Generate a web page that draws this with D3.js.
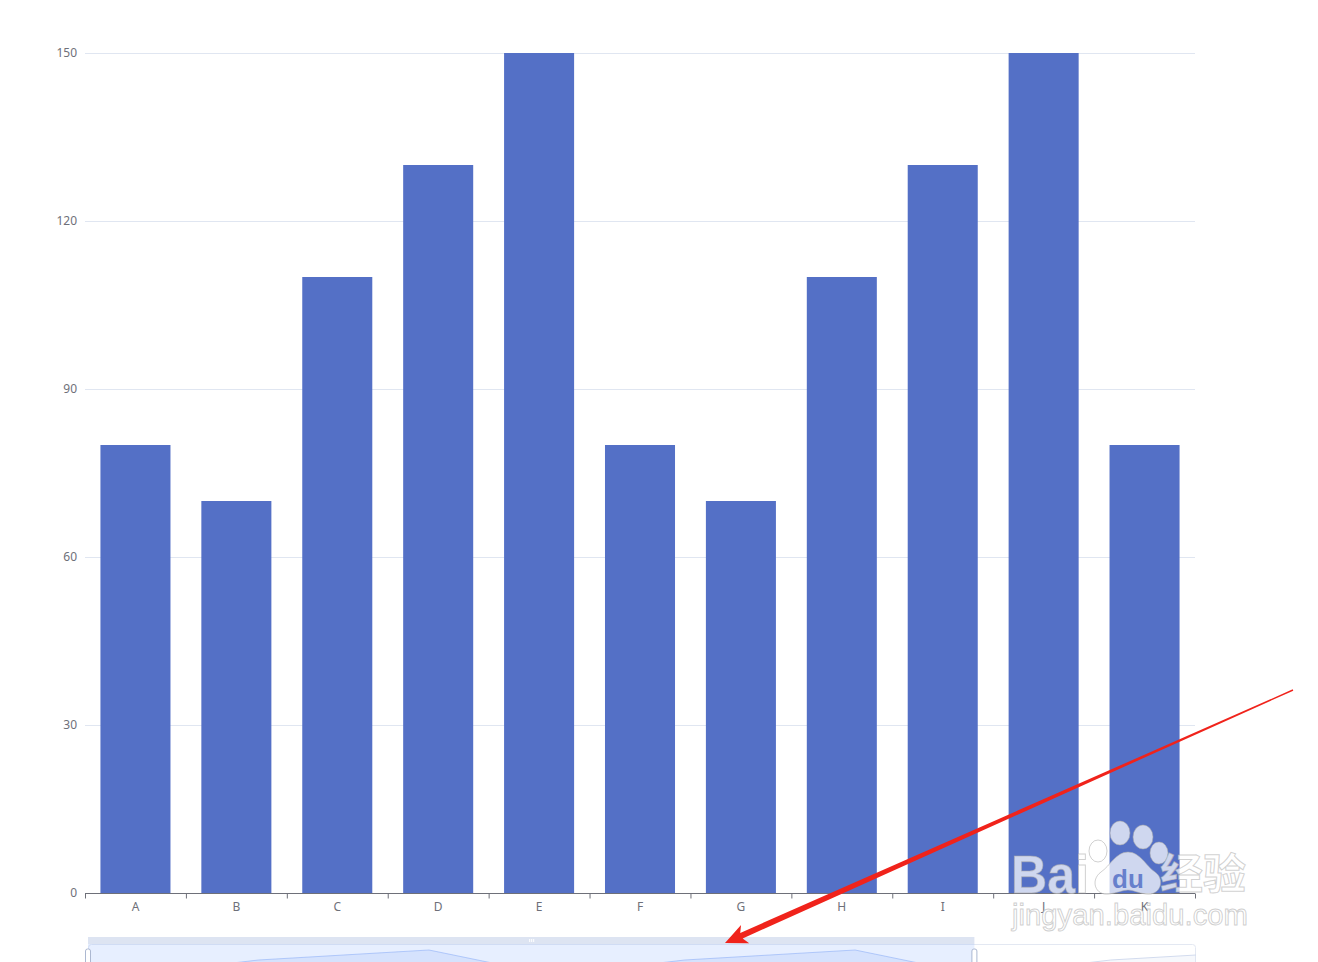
<!DOCTYPE html>
<html>
<head>
<meta charset="utf-8">
<script src="https://cdn.jsdelivr.net/npm/d3@7"></script>
<style>
html,body{margin:0;padding:0;background:#fff;}
svg{display:block;}
</style>
</head>
<body>
<svg id="chart" width="1318" height="962"></svg>
<script>
// ---- data ----
const categories = ["A","B","C","D","E","F","G","H","I","J","K","L","M","N"];
const values = [80,70,110,130,150,80,70,110,130,150,80,70,110,130];
const yTicks = [0,30,60,90,120,150];
const zoomStartIndex = 0;
const zoomEndIndex = 10;     // visible window A..K
const zoomEndPercent = 0.8;  // slider window end

const svg = d3.select("#chart");
const grid = {left:85, right:1195, top:53, bottom:893};
const font = "'Noto Sans', 'DejaVu Sans', sans-serif";
const axisColor = "#6e7079";

const visCats = categories.slice(zoomStartIndex, zoomEndIndex + 1);
const visVals = values.slice(zoomStartIndex, zoomEndIndex + 1);

const x = d3.scaleBand().domain(visCats).range([grid.left, grid.right]).paddingInner(0.306).paddingOuter(0.153);
const xEdge = d3.scaleLinear().domain([0, visCats.length]).range([grid.left, grid.right]);
const y = d3.scaleLinear().domain([0,150]).range([grid.bottom, grid.top]);

// split lines
svg.append("g").selectAll("line").data(yTicks.filter(t => t > 0)).join("line")
  .attr("x1", grid.left).attr("x2", grid.right)
  .attr("y1", d => y(d) + 0.5).attr("y2", d => y(d) + 0.5)
  .attr("stroke", "#e0e6f1").attr("stroke-width", 1);

// y axis labels
const yAxis = d3.axisLeft(y).tickValues(yTicks).tickSize(0).tickPadding(8);
const gy = svg.append("g").attr("transform", `translate(${grid.left},0)`).call(yAxis);
gy.select(".domain").remove();
gy.selectAll("text").attr("font-family", font).attr("font-size", 12).attr("fill", axisColor);

// bars
svg.append("g").selectAll("rect").data(visVals).join("rect")
  .attr("x", (d,i) => x(visCats[i]))
  .attr("width", x.bandwidth())
  .attr("y", d => y(d))
  .attr("height", d => y(0) - y(d))
  .attr("fill", "#5470c6");

// x axis
const gxTicks = svg.append("g").attr("transform", `translate(0,${grid.bottom})`)
  .call(d3.axisBottom(xEdge).tickValues(d3.range(visCats.length + 1)).tickSize(5).tickFormat(""));
gxTicks.selectAll("line,path").attr("stroke", axisColor);
gxTicks.select(".domain").attr("d", `M${grid.left},0.5H${grid.right}`);
gxTicks.selectAll(".tick line").attr("transform", "translate(0,0.5)");

const gx = svg.append("g").attr("transform", `translate(0,${grid.bottom})`)
  .call(d3.axisBottom(x).tickSize(0).tickPadding(9));
gx.select(".domain").remove();
gx.selectAll("text").attr("font-family", font).attr("font-size", 12).attr("fill", axisColor);

// ---- dataZoom slider ----
const sl = {left:88, right:1196, top:944, height:32};
const selEnd = sl.left + zoomEndPercent * (sl.right - sl.left);
const ext = d3.extent(values);
const off = (ext[1] - ext[0]) * 0.3;
const sx = d3.scaleLinear().domain([0, categories.length - 1]).range([sl.left, sl.right]);
const sy = d3.scaleLinear().domain([ext[0] - off, ext[1] + off]).range([sl.top + sl.height, sl.top]);

const defs = svg.append("defs");
defs.append("clipPath").attr("id","clipSel").append("rect")
  .attr("x", sl.left).attr("y", sl.top).attr("width", selEnd - sl.left).attr("height", sl.height);
defs.append("clipPath").attr("id","clipRest").append("rect")
  .attr("x", selEnd).attr("y", sl.top).attr("width", sl.right - selEnd).attr("height", sl.height);

svg.append("rect").attr("x", sl.left + 0.5).attr("y", sl.top + 0.5)
  .attr("width", sl.right - sl.left - 1).attr("height", sl.height)
  .attr("rx", 3).attr("fill", "#fff").attr("stroke", "#e3e8f2");

const area = d3.area().x((d,i) => sx(i)).y0(sl.top + sl.height).y1(d => sy(d));
const line = d3.line().x((d,i) => sx(i)).y(d => sy(d));

// unselected shadow
svg.append("path").datum(values).attr("clip-path","url(#clipRest)")
  .attr("d", area).attr("fill", "#d2dbee").attr("fill-opacity", 0.2);
svg.append("path").datum(values).attr("clip-path","url(#clipRest)")
  .attr("d", line).attr("fill", "none").attr("stroke", "#d2dbee").attr("stroke-width", 1);

// selected filler
svg.append("rect").attr("x", sl.left).attr("y", sl.top)
  .attr("width", selEnd - sl.left).attr("height", sl.height)
  .attr("fill", "rgb(135,175,255)").attr("fill-opacity", 0.2);
svg.append("path").datum(values).attr("clip-path","url(#clipSel)")
  .attr("d", area).attr("fill", "#8fb0f7").attr("fill-opacity", 0.2);
svg.append("path").datum(values).attr("clip-path","url(#clipSel)")
  .attr("d", line).attr("fill", "none").attr("stroke", "#8fb0f7").attr("stroke-opacity", 0.6).attr("stroke-width", 1);

// move handle bar
svg.append("rect").attr("x", sl.left).attr("y", sl.top - 7)
  .attr("width", selEnd - sl.left).attr("height", 7)
  .attr("fill", "#d2dbee").attr("fill-opacity", 0.75);
const gripX = (sl.left + selEnd) / 2;
svg.append("g").selectAll("line").data([-2,0,2]).join("line")
  .attr("x1", d => gripX + d + 0.5).attr("x2", d => gripX + d + 0.5)
  .attr("y1", sl.top - 5).attr("y2", sl.top - 2)
  .attr("stroke", "#fff").attr("stroke-width", 1);

// handles
svg.append("g").selectAll("rect").data([sl.left, selEnd]).join("rect")
  .attr("x", d => d - 2.5).attr("y", sl.top + 5).attr("width", 5).attr("height", sl.height - 10)
  .attr("rx", 2).attr("fill", "#fff").attr("stroke", "#acb8d1").attr("stroke-width", 1);

// ---- watermark ----
const wm = svg.append("g").attr("pointer-events","none");
const wmFill = "rgba(255,255,255,0.72)";
const wmStroke = "rgba(170,170,170,0.55)";
wm.append("text").attr("x", 1011).attr("y", 893).text("Bai")
  .attr("font-family", "'Liberation Sans', Arial, sans-serif").attr("font-weight", "bold")
  .attr("font-size", 53).attr("textLength", 78).attr("lengthAdjust","spacingAndGlyphs")
  .attr("fill", wmFill).attr("stroke", wmStroke).attr("stroke-width", 1);
// paw
[[1120,833,10,12],[1143,837,10,12],[1098,851,9,11],[1159,853,9,11]].forEach(t => {
  wm.append("ellipse").attr("cx", t[0]).attr("cy", t[1]).attr("rx", t[2]).attr("ry", t[3])
    .attr("fill", wmFill).attr("stroke", wmStroke).attr("stroke-width", 1);
});
wm.append("path")
  .attr("d", "M1128,852 C1140,852 1146,866 1155,872 C1166,880 1160,896 1146,894 C1138,893 1133,890 1128,890 C1123,890 1117,893 1109,894 C1095,896 1090,880 1101,872 C1110,866 1116,852 1128,852 Z")
  .attr("fill", wmFill).attr("stroke", wmStroke).attr("stroke-width", 1);
wm.append("text").attr("x", 1128).attr("y", 888).attr("text-anchor","middle").text("du")
  .attr("font-family", "'Liberation Sans', Arial, sans-serif").attr("font-weight","bold")
  .attr("font-size", 26).attr("fill", "#5470c6").attr("fill-opacity", 0.85);
wm.append("text").attr("x", 1160).attr("y", 889).text("经验")
  .attr("font-family", "'Noto Sans CJK SC', sans-serif").attr("font-weight","bold")
  .attr("font-size", 42).attr("textLength", 86).attr("lengthAdjust","spacingAndGlyphs")
  .attr("fill", wmFill).attr("stroke", wmStroke).attr("stroke-width", 1);
wm.append("text").attr("x", 1012).attr("y", 925).text("jingyan.baidu.com")
  .attr("font-family", "'Liberation Sans', Arial, sans-serif")
  .attr("font-size", 30).attr("textLength", 236).attr("lengthAdjust","spacingAndGlyphs")
  .attr("fill", "rgba(255,255,255,0.8)").attr("stroke", "rgba(175,175,175,0.6)").attr("stroke-width", 1);

// ---- red arrow annotation ----
const tail = [1293, 690], tip = [725, 943];
const dx = tail[0] - tip[0], dy = tail[1] - tip[1];
const len = Math.hypot(dx, dy);
const u = [dx/len, dy/len], n = [-u[1], u[0]];
const headLen = 22, headHalf = 10, shaftHalf = 3, tailHalf = 0.7;
const base = [tip[0] + u[0]*headLen, tip[1] + u[1]*headLen];
const p = (pt, s, k) => [pt[0] + n[0]*s*k, pt[1] + n[1]*s*k];
const neck = [tip[0] + u[0]*(headLen-4), tip[1] + u[1]*(headLen-4)];
const pts = [
  tip,
  p(base, headHalf, 1),
  p(neck, shaftHalf, 1),
  p(tail, tailHalf, 1),
  p(tail, tailHalf, -1),
  p(neck, shaftHalf, -1),
  p(base, headHalf, -1)
];
svg.append("path").attr("d", d3.line()(pts) + "Z").attr("fill", "#f0231b");
</script>
</body>
</html>
